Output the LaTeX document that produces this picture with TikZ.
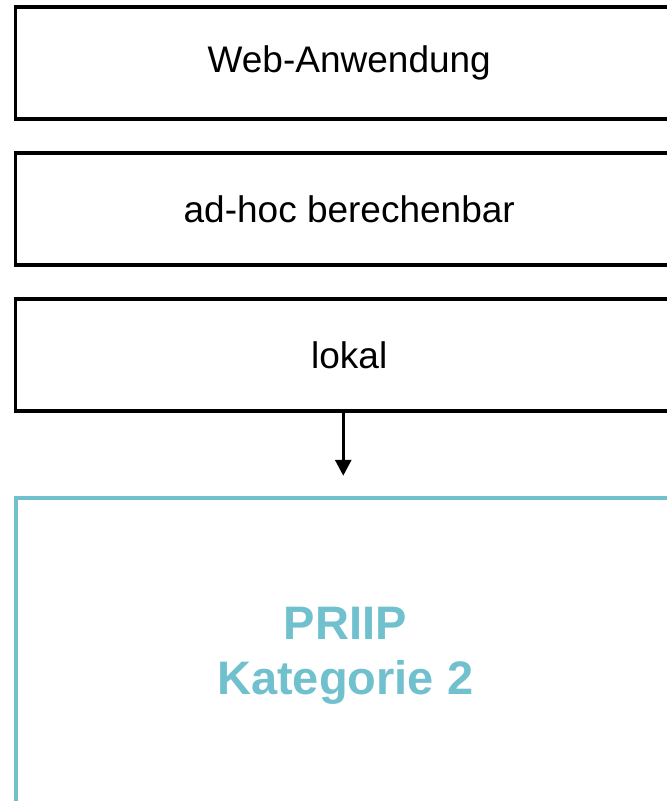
\documentclass[tikz,border=0pt]{standalone}
\usepackage{fontspec}
\setmainfont{Liberation Sans}
\usetikzlibrary{arrows.meta,chains,positioning}
\definecolor{PriipCyan}{RGB}{112,192,206}
\tikzset{%
  BoxStyle/.style={draw,line width=3.5pt,minimum width=667.5pt,minimum height=112pt,font=\fontsize{37}{44}\selectfont},
  CatStyle/.style={draw=PriipCyan,line width=4pt,minimum width=667.5pt,minimum height=340pt},
  CatText/.style={text=PriipCyan,align=center,font=\fontsize{47}{55}\selectfont\bfseries},
  ArrowStyle/.style={line width=3pt,-{Triangle[width=16pt,length=16pt]}}
}

\begin{document}
\begin{tikzpicture}[x=1pt,y=-1pt]
  \useasboundingbox (0,0) rectangle (667,801);
  \clip (0,0) rectangle (667,801);
  \begin{scope} [start chain=going below, node distance=30.5pt, shift={(349.25,63)}]
    \foreach \name [count=\xi] in {Web-Anwendung,ad-hoc berechenbar,lokal}
    { \node[BoxStyle,on chain] (n\xi) {\name};}
  \end{scope}
  \node[CatStyle,below=83pt of n3] (cat) {};
  \node[CatText] (catlabel) at ([xshift=-4pt,yshift=-160pt]cat.north) {PRIIP\\Kategorie 2};
  \coordinate (tip) at ([xshift=-6pt,yshift=20pt]cat.north);
  \draw[ArrowStyle] (n3.south -| tip) -- (tip);
\end{tikzpicture}
\end{document}
